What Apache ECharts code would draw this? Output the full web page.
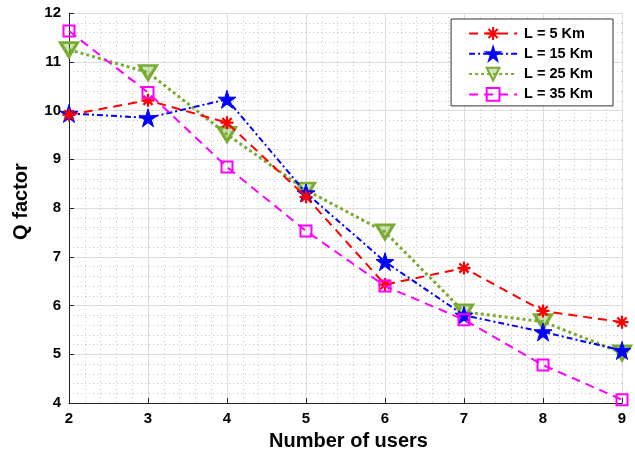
<!DOCTYPE html>
<html>
<head>
<meta charset="utf-8">
<script src="https://cdn.jsdelivr.net/npm/echarts@6/dist/echarts.min.js"></script>
<style>
  html, body { margin: 0; padding: 0; background: #fff; }
  #chart { width: 635px; height: 456px; }
</style>
</head>
<body>
<div id="chart"></div>
<script>
// Number of users on the x axis
const users = [2, 3, 4, 5, 6, 7, 8, 9];

// Q factor for each fibre length
const q5km  = [9.91, 10.21, 9.75, 8.23, 6.43, 6.77, 5.89, 5.66];
const q15km = [9.94, 9.85, 10.23, 8.31, 6.90, 5.80, 5.46, 5.08];
const q25km = [11.25, 10.78, 9.51, 8.37, 7.51, 5.87, 5.67, 5.03];
const q35km = [11.63, 10.37, 8.84, 7.53, 6.40, 5.71, 4.78, 4.07];

const seriesNames = ['L = 5 Km', 'L = 15 Km', 'L = 25 Km', 'L = 35 Km'];

const asteriskPath = 'path://M0,-10L0,10M-10,0L10,0M-7.1,-7.1L7.1,7.1M-7.1,7.1L7.1,-7.1';
const starPath = 'path://M0,-10L2.245,-3.09L9.511,-3.09L3.633,1.18L5.878,8.09L0,3.82L-5.878,8.09L-3.633,1.18L-9.511,-3.09L-2.245,-3.09Z';

function pairs(ys) {
  return users.map((x, i) => [x, ys[i]]);
}

const font = 'Liberation Sans, Arial, Helvetica, sans-serif';

const chart = echarts.init(document.getElementById('chart'), null, { renderer: 'canvas' });

chart.setOption({
  backgroundColor: '#fff',
  animation: false,
  grid: { left: 69, right: 13, top: 13, bottom: 52, containLabel: false },
  legend: {
    right: 22, top: 19,
    orient: 'vertical',
    backgroundColor: '#fff',
    borderColor: '#333',
    borderWidth: 1,
    borderRadius: 0,
    padding: [7, 20, 4, 17],
    itemGap: 5.3,
    itemWidth: 48,
    itemHeight: 16,
    textStyle: { fontFamily: font, fontWeight: 'bold', fontSize: 14.5, color: '#000', padding: [0, 0, 0, 2] },
    data: seriesNames
  },
  xAxis: {
    type: 'value', min: 2, max: 9, interval: 1,
    name: 'Number of users', nameLocation: 'middle', nameGap: 27,
    nameTextStyle: { fontFamily: font, fontWeight: 'bold', fontSize: 20, color: '#000', padding: [0, 0, 0, 6] },
    axisLine: { lineStyle: { color: '#222', width: 1 } },
    axisTick: { inside: true, length: 5, lineStyle: { color: '#222' } },
    axisLabel: { fontFamily: font, fontWeight: 'bold', fontSize: 15, color: '#000', margin: 8 },
    splitLine: { show: true, lineStyle: { color: '#dcdcdc', width: 1 } },
    minorTick: { show: false, splitNumber: 5 },
    minorSplitLine: { show: true, lineStyle: { color: '#c8c8c8', type: [1, 3], width: 1 } }
  },
  yAxis: {
    type: 'value', min: 4, max: 12, interval: 1,
    name: 'Q factor', nameLocation: 'middle', nameGap: 38,
    nameTextStyle: { fontFamily: font, fontWeight: 'bold', fontSize: 20, color: '#000', padding: [0, 0, 0, 13] },
    axisLine: { show: true, lineStyle: { color: '#222', width: 1 } },
    axisTick: { show: true, inside: true, length: 5, lineStyle: { color: '#222' } },
    axisLabel: { fontFamily: font, fontWeight: 'bold', fontSize: 15, color: '#000', margin: 8 },
    splitLine: { show: true, lineStyle: { color: '#dcdcdc', width: 1 } },
    minorTick: { show: false, splitNumber: 5 },
    minorSplitLine: { show: true, lineStyle: { color: '#c8c8c8', type: [1, 3], width: 1 } }
  },
  series: [
    {
      name: seriesNames[0], type: 'line', data: pairs(q5km),
      symbol: asteriskPath, symbolSize: 13,
      itemStyle: { color: '#ff0000', borderColor: '#ff0000', borderWidth: 2.2 },
      lineStyle: { color: '#ff0000', width: 2, type: [9, 6] },
      z: 4
    },
    {
      name: seriesNames[1], type: 'line', data: pairs(q15km),
      symbol: starPath, symbolSize: 18,
      itemStyle: { color: '#0000ff', borderColor: '#0000ff', borderWidth: 1 },
      lineStyle: { color: '#0000ff', width: 2, type: [6, 3, 2, 3] },
      z: 3
    },
    {
      name: seriesNames[2], type: 'line', data: pairs(q25km),
      symbol: 'triangle', symbolRotate: 180, symbolSize: [17, 14],
      itemStyle: { color: 'rgba(119,172,48,0.35)', borderColor: '#77ac30', borderWidth: 3 },
      lineStyle: { color: '#77ac30', width: 3, type: [3, 3] },
      z: 2
    },
    {
      name: seriesNames[3], type: 'line', data: pairs(q35km),
      symbol: 'rect', symbolSize: 11,
      itemStyle: { color: 'rgba(0,0,0,0)', borderColor: '#ff00ff', borderWidth: 2 },
      lineStyle: { color: '#ff00ff', width: 2, type: [9, 6] },
      z: 5
    }
  ]
});
</script>
</body>
</html>
